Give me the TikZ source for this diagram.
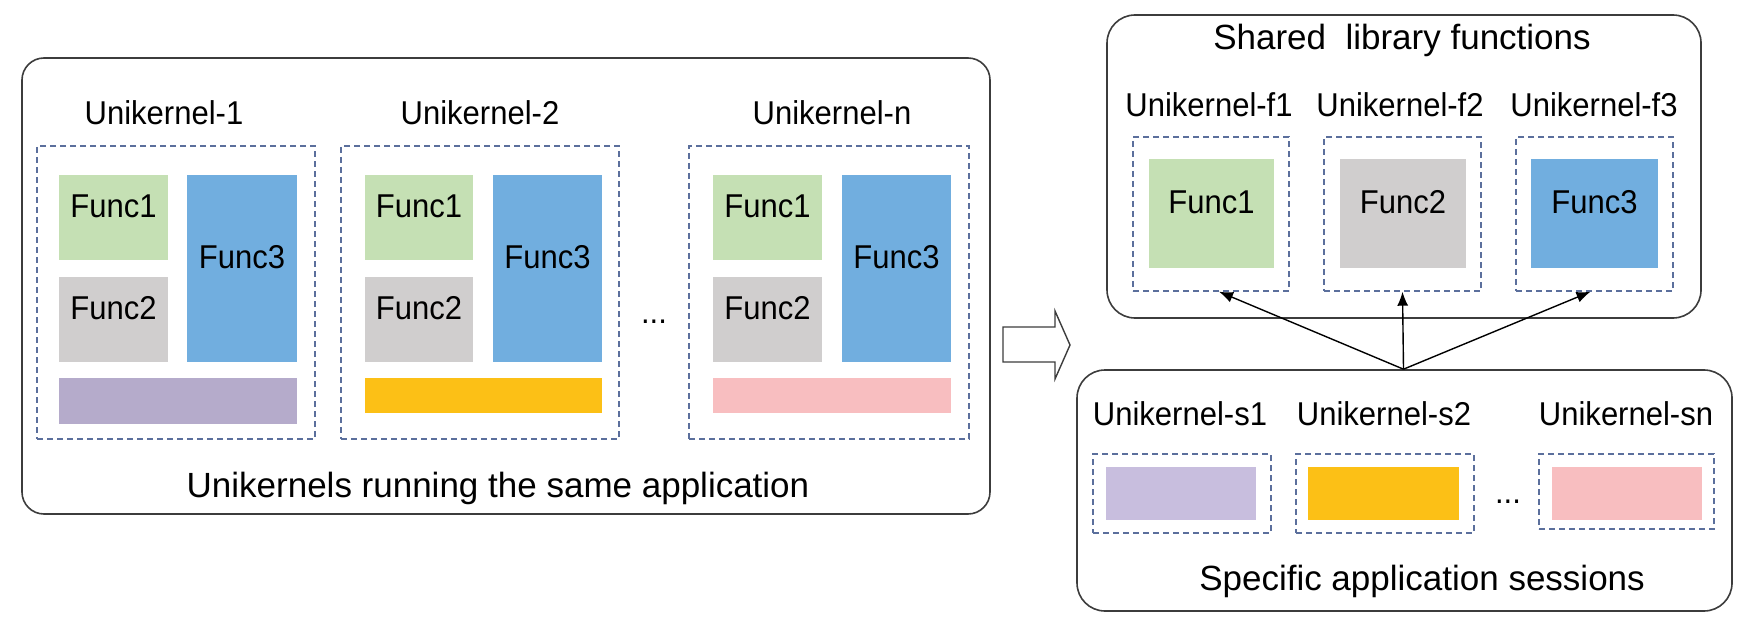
\documentclass[tikz,border=0pt]{standalone}
\usepackage{fontspec}
\setmainfont{Liberation Sans}
\newfontfamily\labfam{Liberation Sans}[FakeStretch=0.94]
\usetikzlibrary{fit,arrows.meta}
\definecolor{fgreen}{HTML}{C5E0B4}
\definecolor{fgray}{HTML}{D0CECE}
\definecolor{fblue}{HTML}{71AEDF}
\definecolor{fpurpA}{HTML}{B5ABCB}
\definecolor{fpurpB}{HTML}{C8BEDE}
\definecolor{fyellow}{HTML}{FCC016}
\definecolor{fpink}{HTML}{F8BEC0}
\definecolor{dashc}{HTML}{5B6F9C}
\definecolor{edgec}{HTML}{3C3C3C}
\newcommand\labfont{\labfam\fontsize{33}{38}\selectfont}
\newcommand\capfont{\fontsize{35}{40}\selectfont}
\tikzset{
 panel/.style={draw=edgec, line width=1.6pt, rounded corners=22pt, inner sep=0pt},
 dbox/.style={draw=dashc, line width=1.4pt, dash pattern=on 6pt off 4pt, inner sep=0pt},
 fbox/.style={inner sep=0pt, font=\labfont},
 lab/.style={font=\labfont, inner sep=0pt, anchor=base},
 captext/.style={font=\capfont, inner sep=0pt, anchor=base},
 conn/.style={draw=black, line width=1.4pt, -{Latex[length=14pt,width=11pt]}},
 hollow/.style={draw=edgec, line width=1.4pt, fill=white},
}
\begin{document}
\begin{tikzpicture}[x=1pt,y=-1pt]
\useasboundingbox (0,0) rectangle (1752,636);

% ---------- left panel ----------
\node[panel, fit={(22,58)(990,514)}] (left) {};
\node[lab] (u1) at (164,125) {Unikernel-1};
\node[lab] (u2) at (480,125) {Unikernel-2};
\node[lab] (un) at (832,125) {Unikernel-n};

\node[dbox, fit={(37,146)(315,439)}] (d1) {};
\node[dbox, fit={(341,146)(619,439)}] (d2) {};
\node[dbox, fit={(689,146)(969,439)}] (dn) {};

\node[fbox, fill=fgreen, fit={(59,175)(168,260)}] (a1f1) {Func1};
\node[fbox, fill=fgray,  fit={(59,277)(168,362)}] (a1f2) {Func2};
\node[fbox, fill=fblue,  fit={(187,175)(297,362)}] (a1f3) {Func3};
\node[fbox, fill=fpurpA, fit={(59,378)(297,424)}] (a1b) {};

\node[fbox, fill=fgreen, fit={(365,175)(473,260)}] (a2f1) {Func1};
\node[fbox, fill=fgray,  fit={(365,277)(473,362)}] (a2f2) {Func2};
\node[fbox, fill=fblue,  fit={(493,175)(602,362)}] (a2f3) {Func3};
\node[fbox, fill=fyellow, fit={(365,378)(602,413)}] (a2b) {};

\node[fbox, fill=fgreen, fit={(713,175)(822,260)}] (anf1) {Func1};
\node[fbox, fill=fgray,  fit={(713,277)(822,362)}] (anf2) {Func2};
\node[fbox, fill=fblue,  fit={(842,175)(951,362)}] (anf3) {Func3};
\node[fbox, fill=fpink,  fit={(713,378)(951,413)}] (anb) {};

\node[lab] (dots1) at (654,323) {...};
\node[captext] (leftcap) at (498,497) {Unikernels running the same application};

% ---------- hollow arrow ----------
\draw[hollow] (1003,327) -- (1055,327) -- (1055,311) -- (1070,345) -- (1055,379) -- (1055,362) -- (1003,362) -- cycle;

% ---------- shared library panel ----------
\node[panel, rounded corners=28pt, fit={(1107,15)(1701,318)}] (shared) {};
\node[captext] (stitle) at (1402,50) {Shared\ \ library functions};
\node[lab] (uf1) at (1209,117) {Unikernel-f1};
\node[lab] (uf2) at (1400,117) {Unikernel-f2};
\node[lab] (uf3) at (1594,117) {Unikernel-f3};
\node[dbox, fit={(1133,137)(1289,291)}] (df1) {};
\node[dbox, fit={(1324,137)(1481,291)}] (df2) {};
\node[dbox, fit={(1516,137)(1673,291)}] (df3) {};
\node[fbox, fill=fgreen, fit={(1149,159)(1274,268)}] (ff1) {Func1};
\node[fbox, fill=fgray,  fit={(1340,159)(1466,268)}] (ff2) {Func2};
\node[fbox, fill=fblue,  fit={(1531,159)(1658,268)}] (ff3) {Func3};

% ---------- sessions panel ----------
\node[panel, rounded corners=28pt, fit={(1077,370)(1732,611)}] (sess) {};
\node[lab] (us1) at (1180,425) {Unikernel-s1};
\node[lab] (us2) at (1384,425) {Unikernel-s2};
\node[lab] (usn) at (1626,425) {Unikernel-sn};
\node[dbox, fit={(1093,454)(1271,533)}] (ds1) {};
\node[dbox, fit={(1296,454)(1474,533)}] (ds2) {};
\node[dbox, fit={(1539,454)(1714,529)}] (dsn) {};
\node[fbox, fill=fpurpB, fit={(1106,467)(1256,520)}] (bs1) {};
\node[fbox, fill=fyellow, fit={(1308,467)(1459,520)}] (bs2) {};
\node[fbox, fill=fpink, fit={(1552,467)(1702,520)}] (bsn) {};
\node[lab] (dots2) at (1508,503) {...};
\node[captext] (sesscap) at (1422,590) {Specific application sessions};

% ---------- connectors ----------
\coordinate (apex) at ([xshift=-1pt]sess.north);
\draw[conn] (apex) -- ([xshift=8pt]df1.south);
\draw[conn] (apex) -- (df2.south);
\draw[conn] (apex) -- ([xshift=-4pt]df3.south);
\end{tikzpicture}
\end{document}
